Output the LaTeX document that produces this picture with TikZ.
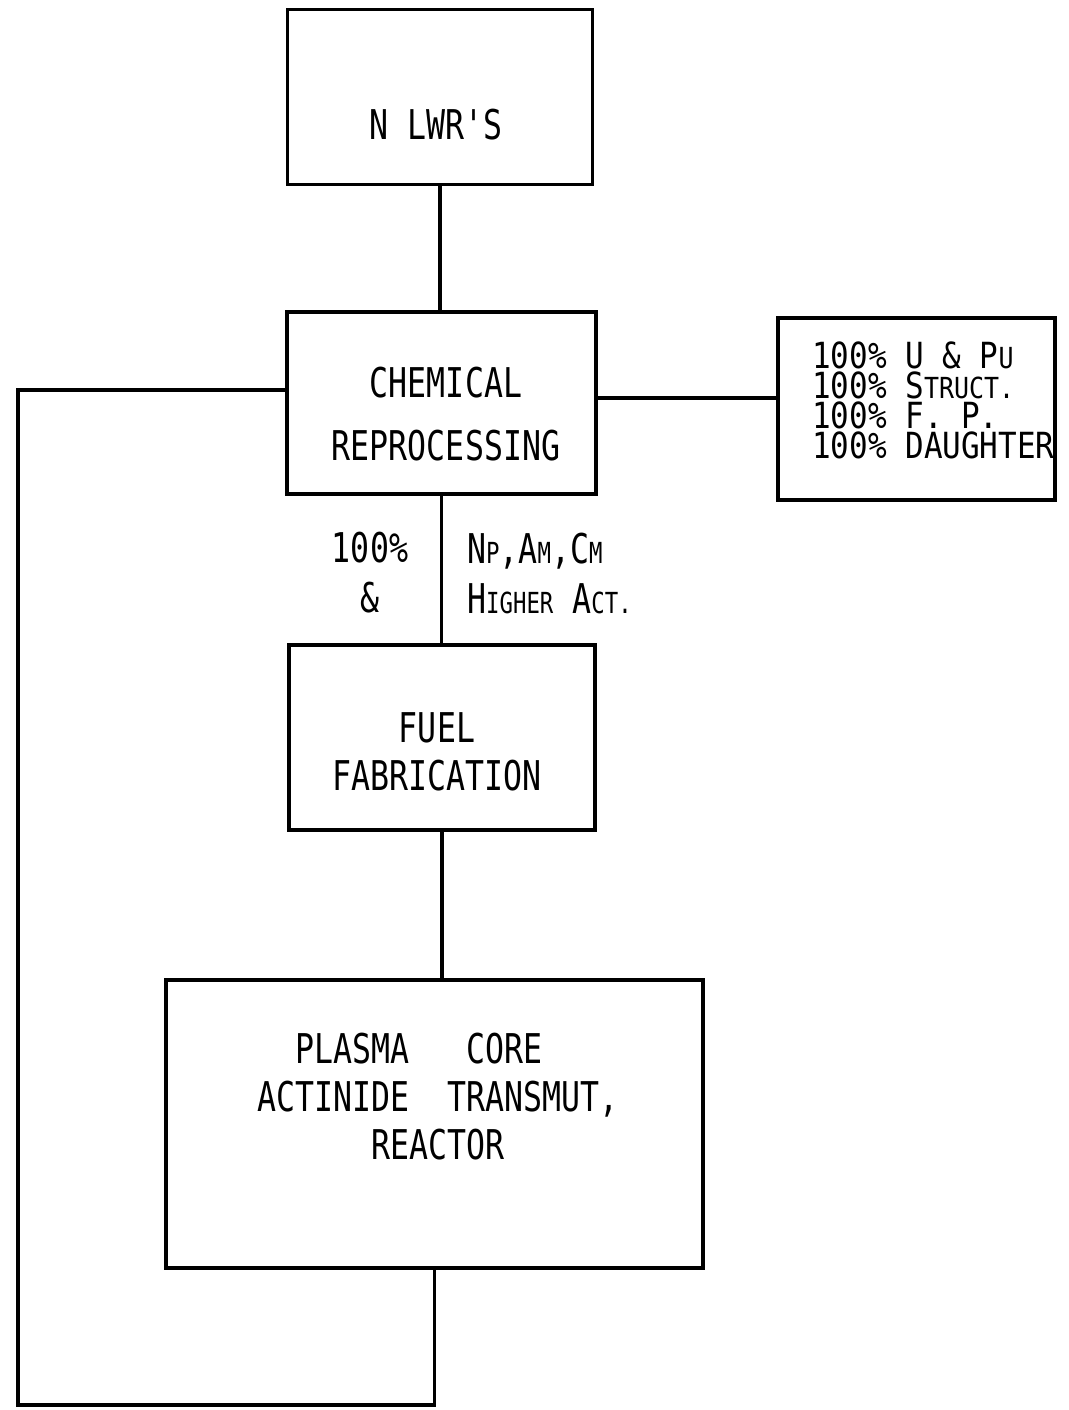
\documentclass[tikz,border=0pt]{standalone}
\usepackage{fontspec}
\newfontfamily\typer[FakeStretch=0.77]{DejaVu Sans Mono}
\newfontfamily\typewide[FakeStretch=0.86]{DejaVu Sans Mono}
\usetikzlibrary{positioning}
\newcommand{\smc}[1]{{\fontsize{29}{29}\selectfont #1}}
\tikzset{
  box/.style={draw=black, line width=3.8pt, inner sep=0pt},
  boxtext/.style={font=\typer\fontsize{41}{48}\selectfont, align=center, inner sep=0pt},
  sidetext/.style={font=\typewide\fontsize{36}{30}\selectfont, align=left, inner sep=0pt, anchor=west},
  flowtext/.style={font=\typer\fontsize{41}{50}\selectfont, inner sep=0pt},
  line/.style={line width=3.8pt}
}

\begin{document}
\begin{tikzpicture}[x=1pt, y=-1pt]
    \useasboundingbox (0,0) rectangle (1068,1410);
    % boxes
    \node (lwr) [box, minimum width=305pt, minimum height=175pt] at (440,97) {};
    \node (chem) [box, minimum width=309pt, minimum height=182pt] at (441.5,403) {};
    \node (waste) [box, minimum width=277pt, minimum height=182pt] at (916.5,409) {};
    \node (fuel) [box, minimum width=306pt, minimum height=185pt] at (442,737.5) {};
    \node (reactor) [box, minimum width=537pt, minimum height=288pt] at (434.5,1124) {};
    \coordinate (loopcorner) at (18,1405);
    \coordinate (chemout) at ([yshift=5pt]chem.east);
    \coordinate (chemin) at ([yshift=13pt]chem.west);

    % texts
    \node (lwrtext) [boxtext] at (436,125) {N LWR'S};
    \node (chemtext) [boxtext, font=\typer\fontsize{41}{63}\selectfont] at (446,414.5) {CHEMICAL\\REPROCESSING};
    \node (fueltext) [boxtext] at (437,751.5) {FUEL\\FABRICATION};
    \node (reactortext) [boxtext] at (438,1097) {PLASMA\ \ \ CORE\phantom{XX}\\ACTINIDE\ \ TRANSMUT,\\REACTOR};
    \node (wastetext) [sidetext] at (812,400) {100\% U \& P\smc{U}\\100\% S\smc{TRUCT.}\\100\% F. P.\\100\% DAUGHTER};
    \node (pcttext) [flowtext, align=center] at (370,573) {100\%\\\&};
    \node (acttext) [flowtext, align=left, anchor=west] at (467,573) {N\smc{P},A\smc{M},C\smc{M}\\H\smc{IGHER} A\smc{CT.}};

    % connectors
    \draw [line] (lwr.south) -- (lwr.south |- chem.north);
    \draw [line] (chemout) -- (waste.west |- chemout);
    \draw [line] (chem.south) -- (chem.south |- fuel.north);
    \draw [line] (fuel.south) -- (fuel.south |- reactor.north);
    \draw [line] (reactor.south) |- (loopcorner) |- (chemin);
\end{tikzpicture}
\end{document}
